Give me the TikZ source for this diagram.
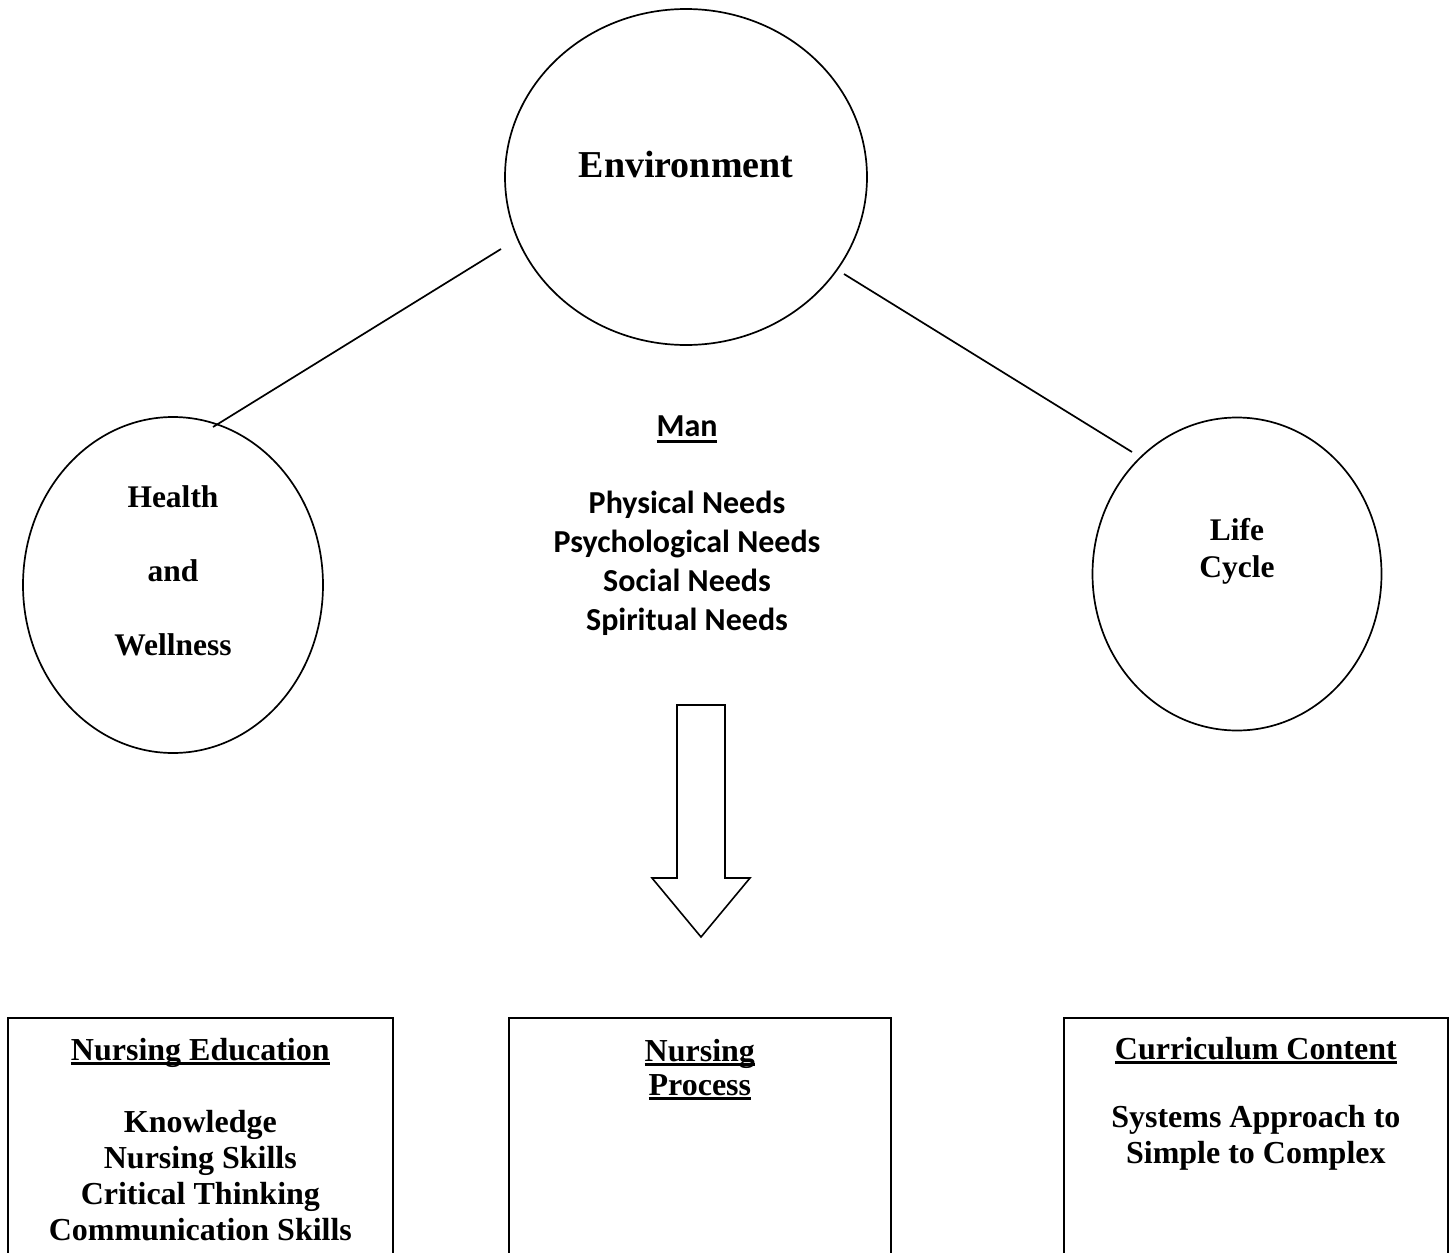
\documentclass[tikz,border=0pt]{standalone}
\usepackage{fontspec}
\setmainfont{Liberation Serif}
\newfontfamily\calibri{Carlito}
\usetikzlibrary{shapes.geometric,calc}
\newsavebox\ulbox
\newcommand\myul[3]{\sbox\ulbox{#3}\rlap{\rule[-#1]{\wd\ulbox}{#2}}\usebox\ulbox}
\newcommand\ulser[1]{\myul{5pt}{3.5pt}{#1}}
\newcommand\ulsans[1]{\myul{6.5pt}{2.5pt}{#1}}
\begin{document}
\begin{tikzpicture}[x=1pt,y=-1pt,line width=1.7pt,
  circ/.style={draw,ellipse,inner sep=0pt},
  boxst/.style={draw,rectangle,inner sep=0pt,anchor=north west,minimum height=300pt},
  bigser/.style={font=\bfseries\fontsize{38}{44}\selectfont,inner sep=0pt,anchor=base},
  cirtxt/.style={font=\bfseries\fontsize{31.5}{37}\selectfont,inner sep=0pt,anchor=base,align=center},
  boxtxt/.style={font=\bfseries\fontsize{32}{36}\selectfont,inner sep=0pt,anchor=base,align=center},
  mantxt/.style={font=\calibri\bfseries\fontsize{32}{39}\selectfont,inner sep=0pt,anchor=base,align=center},
  link/.style={draw,line width=1.7pt}]
\useasboundingbox (0,0) rectangle (1454,1253);
% circles
\node[circ,minimum width=362pt,minimum height=336pt] (env) at (686,177) {};
\node[circ,minimum width=300pt,minimum height=336pt] (health) at (173,585) {};
\node[circ,minimum width=289pt,minimum height=313pt] (life) at (1237,574) {};
% texts in circles (anchor = baseline of last line)
\node[bigser] (envtxt) at (686,177) {Environment};
\node[cirtxt] (healthtxt) at (173,655) {Health\\[37pt]and\\[37pt]Wellness};
\node[cirtxt] (lifetxt) at (1237,577) {Life\\Cycle};
% connectors
\coordinate (e1) at ($(env.center)+(-185,72)$);
\coordinate (h1) at ($(health.center)+(40,-158)$);
\coordinate (e2) at ($(env.center)+(158,97)$);
\coordinate (l1) at ($(life.center)+(-105,-122)$);
\draw[link] (e1) -- (h1);
\draw[link] (e2) -- (l1);
% man
\node[mantxt] (man) at (687,630) {\ulsans{Man}\\[38pt]Physical Needs\\Psychological Needs\\Social Needs\\Spiritual Needs};
% block arrow
\draw[line width=1.6pt,line join=miter] (677,705) -- (725,705) -- (725,878) -- (750,878) -- (701,937) -- (652,878) -- (677,878) -- cycle;
% boxes
\node[boxst,minimum width=385pt] (edu) at (7,1017) {};
\node[boxst,minimum width=382pt] (proc) at (508,1017) {};
\node[boxst,minimum width=384pt] (curr) at (1063,1017) {};
\node[boxtxt] (edutxt) at (edu.north |- 0,1240) {\ulser{Nursing Education}\\[36pt]Knowledge\\Nursing Skills\\Critical Thinking\\Communication Skills};
\node[boxtxt,font=\bfseries\fontsize{32}{34}\selectfont] (proctxt) at (proc.north |- 0,1095) {\ulser{Nursing}\\\ulser{Process}};
\node[boxtxt] (currtxt) at (curr.north |- 0,1163) {\ulser{Curriculum Content}\\[32pt]Systems Approach to\\Simple to Complex};
\end{tikzpicture}
\end{document}
